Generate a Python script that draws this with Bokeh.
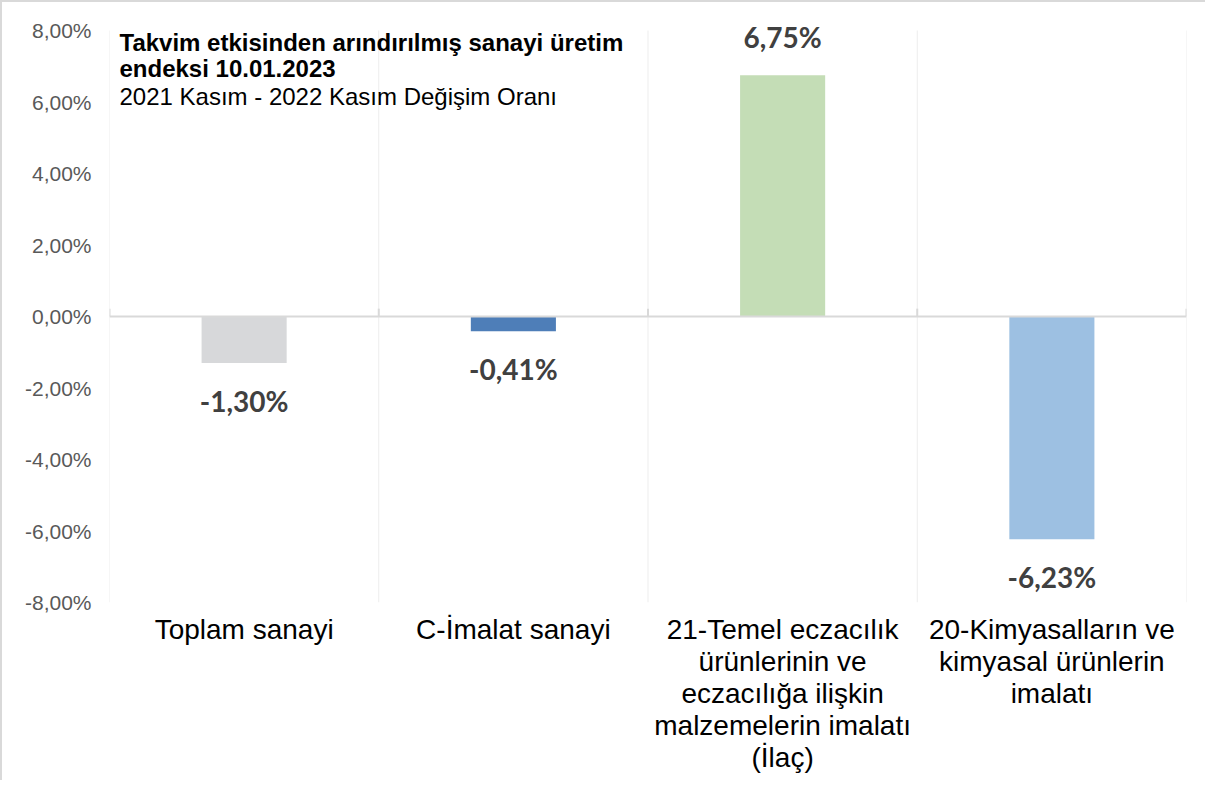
from bokeh.plotting import figure
from bokeh.models import FixedTicker, Range1d, Span, ColumnDataSource, LabelSet
from bokeh.core.properties import value
from bokeh.embed import file_html
from bokeh.resources import INLINE

categories = [
    "Toplam sanayi",
    "C-İmalat sanayi",
    "21-Temel eczacılık\nürünlerinin ve\neczacılığa ilişkin\nmalzemelerin imalatı\n(İlaç)",
    "20-Kimyasalların ve\nkimyasal ürünlerin\nimalatı",
]
values = [-1.30, -0.41, 6.75, -6.23]
value_labels = ["-1,30%", "-0,41%", "6,75%", "-6,23%"]
bar_colors = ["#D7D8DA", "#4E7EB8", "#C4DDB6", "#9DC0E2"]
y_ticks = [-8, -6, -4, -2, 0, 2, 4, 6, 8]
title_lines = [
    "Takvim etkisinden arındırılmış sanayi üretim",
    "endeksi 10.01.2023",
    "2021 Kasım - 2022 Kasım Değişim Oranı",
]
title_styles = ["bold", "bold", "normal"]

n = len(categories)
xs = list(range(n))
boundaries = [i - 0.5 for i in range(n + 1)]
y_min, y_max = y_ticks[0], y_ticks[-1]

# layout: 572 px for the -8..8 span, plus 11 px headroom for the top value label
px_per_unit = 572 / (y_max - y_min)
headroom_px = 11

p = figure(width=1205, height=780, output_backend="svg", toolbar_location=None,
           x_range=Range1d(-0.5, n - 0.5),
           y_range=Range1d(y_min, y_max + headroom_px / px_per_unit),
           min_border_left=107, min_border_right=21, min_border_top=28 - headroom_px,
           min_border_bottom=180)
p.outline_line_color = None
p.background_fill_color = "white"
p.border_fill_color = "white"
p.styles = {"border-left": "2px solid #d9d9d9", "border-top": "2px solid #d9d9d9"}

# grids
p.ygrid.grid_line_color = None
p.xgrid.grid_line_color = None
p.segment(x0=boundaries, x1=boundaries, y0=[y_min] * len(boundaries), y1=[y_max] * len(boundaries),
          line_color="#EDEDED", line_width=1)

# y axis
p.yaxis.ticker = FixedTicker(ticks=y_ticks)
p.yaxis.major_label_overrides = {t: (f"{t:.2f}".replace(".", ",") + "%") for t in y_ticks}
p.yaxis.axis_line_color = None
p.yaxis.major_tick_line_color = None
p.yaxis.minor_tick_line_color = None
p.yaxis.major_label_text_font = "Liberation Sans"
p.yaxis.major_label_text_font_size = "21px"
p.yaxis.major_label_text_color = "#595959"
p.yaxis.major_label_standoff = 12

# x axis with category labels
p.xaxis.ticker = FixedTicker(ticks=xs)
p.xaxis.major_label_overrides = {i: c for i, c in zip(xs, categories)}
p.xaxis.axis_line_color = None
p.xaxis.major_tick_line_color = None
p.xaxis.minor_tick_line_color = None
p.xaxis.major_label_text_font = "Liberation Sans"
p.xaxis.major_label_text_font_size = "28px"
p.xaxis.major_label_text_line_height = 1.04
p.xaxis.major_label_text_color = "#000000"
p.xaxis.major_label_standoff = 5

# bars
src = ColumnDataSource(dict(x=xs, top=values, color=bar_colors, label=value_labels,
                            off=[-38 if v < 0 else 38 for v in values]))
p.vbar(x="x", top="top", bottom=0, width=0.316, fill_color="color", line_color=None, source=src)

# zero line + small ticks
p.add_layout(Span(location=0, dimension="width", line_color="#D9D9D9", line_width=2))
p.segment(x0=boundaries, x1=boundaries, y0=[0] * len(boundaries), y1=[0.22] * len(boundaries),
          line_color="#D9D9D9", line_width=2)

# value labels
labels = LabelSet(x="x", y="top", text="label", y_offset="off", source=src,
                  text_align="center", text_baseline="middle",
                  text_font=value("Lato"), text_font_style="bold", text_font_size="28px",
                  text_color="#404040")
p.add_layout(labels)

# title block
tsrc = ColumnDataSource(dict(x=[-0.5] * 3, y=[y_max] * 3, text=title_lines, style=title_styles,
                             off=[12, 38, 66]))
p.text(x="x", y="y", text="text", source=tsrc, x_offset=10, y_offset="off",
       text_align="left", text_baseline="middle", text_font=value("Liberation Sans"),
       text_font_style="style", text_font_size="24px", text_color="#000000")

open("out.html", "w").write(file_html(p, INLINE))
